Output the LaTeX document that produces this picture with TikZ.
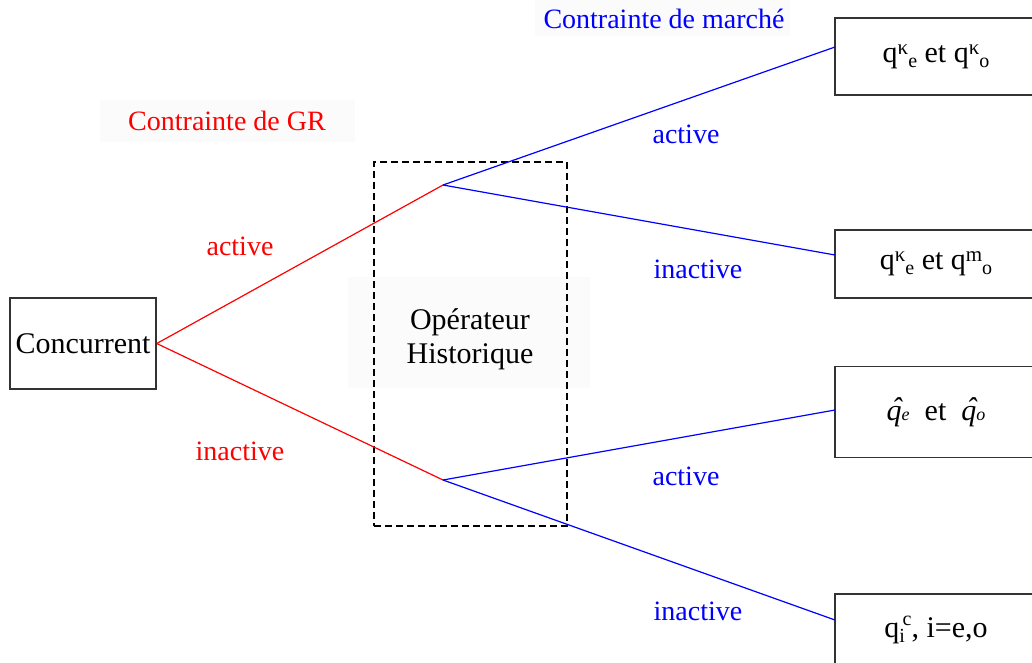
\documentclass[tikz,border=0pt]{standalone}
\usepackage{fontspec}
\setmainfont{Liberation Serif}
\newcommand\upk[1]{\raisebox{8pt}{\fontsize{21}{21}\selectfont #1}}
\newcommand\dnk[1]{\raisebox{-5pt}{\fontsize{20}{20}\selectfont #1}}
\newcommand\qhatit{\rlap{\kern 5pt\raisebox{2pt}{\itshape\char"02C6}}\textit{q}}
\begin{document}
\begin{tikzpicture}[x=1pt,y=-1pt,
  box/.style={draw=black!80, line width=1.5pt, fill=white, inner sep=0pt, font=\fontsize{30}{34}\selectfont},
  redlbl/.style={text=red, inner sep=0pt, font=\fontsize{28}{32}\selectfont},
  bluelbl/.style={text=blue, inner sep=0pt, font=\fontsize{28}{32}\selectfont},
  redline/.style={draw=red, line width=1.2pt},
  blueline/.style={draw=blue, line width=1.2pt},
  bgfill/.style={fill=black!1.5, draw=none}]
\useasboundingbox (0,0) rectangle (1032,662);
\clip (0,0) rectangle (1032,662);
% faint backgrounds
\fill[bgfill] (100,100) rectangle (355,142);
\fill[bgfill] (535,0) rectangle (790,36);
\fill[bgfill] (348,277) rectangle (590,388);
% dashed operator box
\node[draw=black, line width=1.5pt, dash pattern=on 7pt off 4pt, minimum width=193, minimum height=364, inner sep=0pt] (op) at (470.5,344) {};
\node[align=center, font=\fontsize{30}{34}\selectfont, inner sep=0pt] (optxt) at (470,339) {Opérateur\\Historique};
% junctions
\coordinate (u) at (443,185);
\coordinate (l) at (443,480);
% boxes
\node[box, minimum width=146, minimum height=91] (conc) at (83,343.5) {Concurrent};
\node[box, minimum width=202, minimum height=77] (b1) at (936,56.5) {q\upk{κ}\dnk{e} et q\upk{κ}\dnk{o}};
\node[box, minimum width=202, minimum height=68] (b2) at (936,264) {q\upk{κ}\dnk{e} et q\upk{m}\dnk{o}};
\node[box, minimum width=202, minimum height=91] (b3) at (936,412) {\qhatit{\fontsize{18}{18}\itshape e}\ \ et\ \ \qhatit{\fontsize{18}{18}\itshape o}\hspace{8pt}};
\node[box, minimum width=202, minimum height=72] (b4) at (936,630) {q\raisebox{-5pt}{\fontsize{20}{21}\selectfont\shortstack[l]{\,c\\i}}, i=e,o};
% entry points
\coordinate (e1) at (835,47);
\coordinate (e2) at (835,255);
\coordinate (e3) at (835,410);
\coordinate (e4) at (835,620);
% connectors
\draw[redline] (conc.east) -- (u);
\draw[redline] (conc.east) -- (l);
\draw[blueline] (u) -- (e1);
\draw[blueline] (u) -- (e2);
\draw[blueline] (l) -- (e3);
\draw[blueline] (l) -- (e4);
% labels
\node[redlbl] (gr) at (227,121) {Contrainte de GR};
\node[redlbl] (ra) at (240,246) {active};
\node[redlbl] (ri) at (240,451) {inactive};
\node[bluelbl] (mc) at (664,19) {Contrainte de marché};
\node[bluelbl] (ba1) at (686,134) {active};
\node[bluelbl] (bi1) at (698,269) {inactive};
\node[bluelbl] (ba2) at (686,476) {active};
\node[bluelbl] (bi2) at (698,611) {inactive};
\end{tikzpicture}
\end{document}
